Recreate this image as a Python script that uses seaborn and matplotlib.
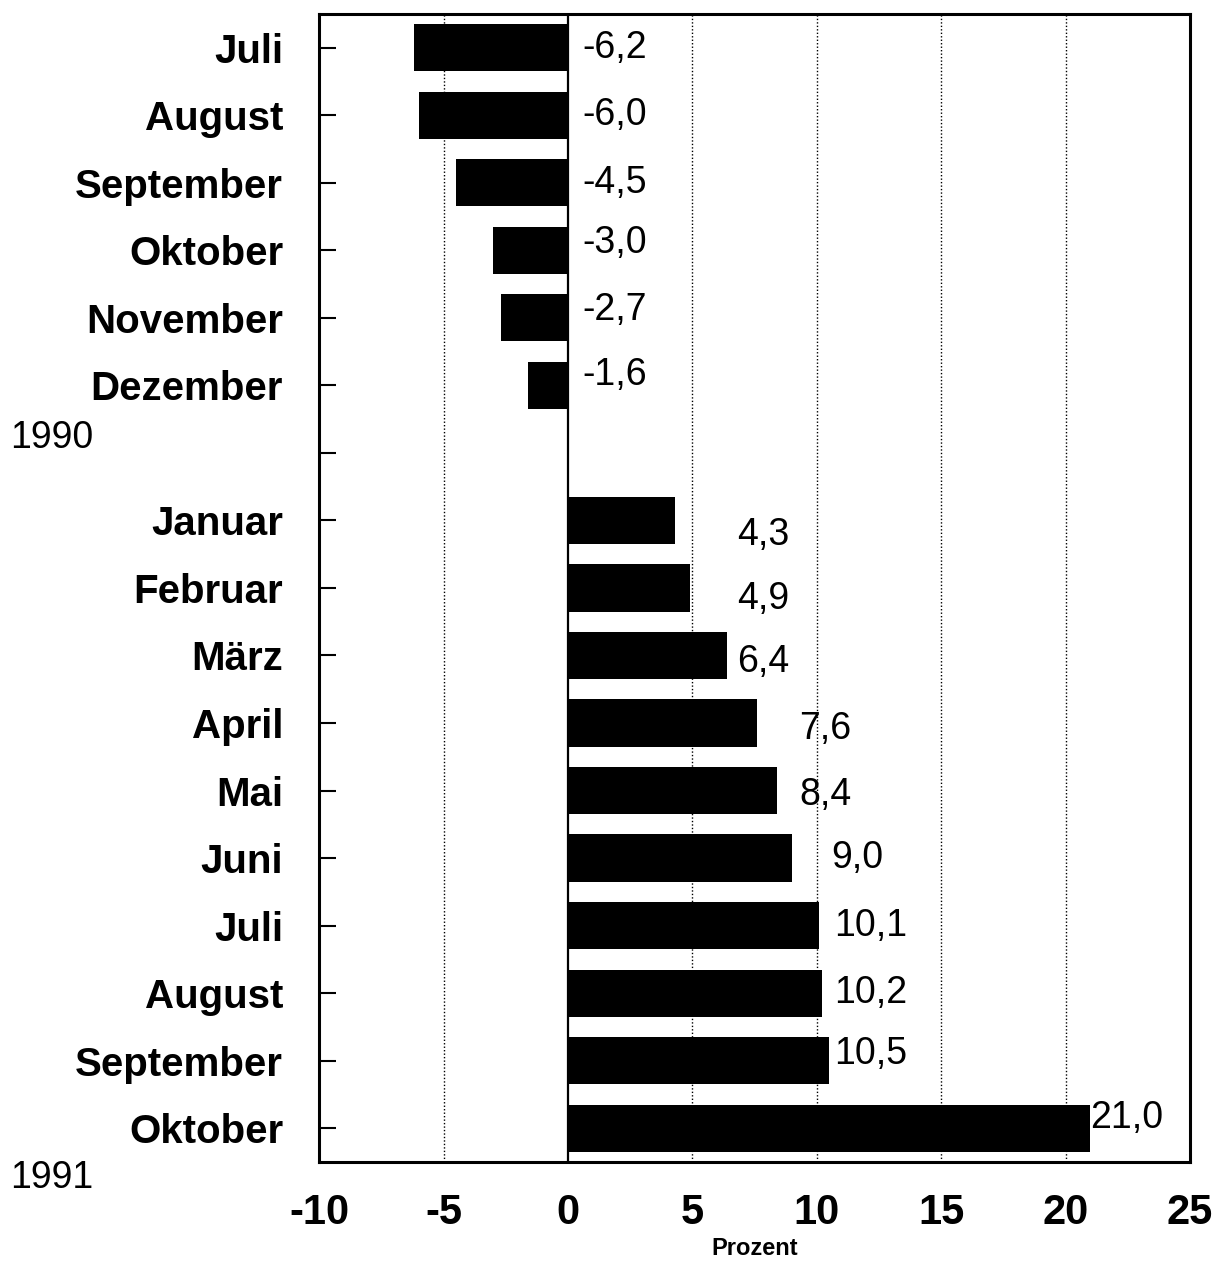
""" Veraenderung gegenueber Vorjahresmonat, Juli 1990 - Oktober 1991 """

import matplotlib
matplotlib.use('Agg')
import matplotlib.pyplot as plt
import numpy as np
import pandas as pd
import seaborn as sns

MONTHS_1990 = ['Juli', 'August', 'September', 'Oktober', 'November', 'Dezember']
VALUES_1990 = [-6.2, -6.0, -4.5, -3.0, -2.7, -1.6]
MONTHS_1991 = ['Januar', 'Februar', 'März', 'April', 'Mai', 'Juni',
               'Juli', 'August', 'September', 'Oktober']
VALUES_1991 = [4.3, 4.9, 6.4, 7.6, 8.4, 9.0, 10.1, 10.2, 10.5, 21.0]
X_TICKS = [-10, -5, 0, 5, 10, 15, 20, 25]

# where the value labels sit (data units)
LABEL_X = [0.6] * 6 + [6.8, 6.8, 6.8, 9.3, 9.3, 10.6, 10.7, 10.7, 10.7, 21.0]
LABEL_DY = [0, 0, 0, -0.1, -0.12, -0.15,
            0.22, 0.16, 0.1, 0.09, 0.07, 0, 0, 0, -0.1, -0.15]

FONT = 'Liberation Sans'


def build_frame():
    keys = [f'1990 {m}' for m in MONTHS_1990] + ['gap'] + \
           [f'1991 {m}' for m in MONTHS_1991]
    values = VALUES_1990 + [np.nan] + VALUES_1991
    names = MONTHS_1990 + [''] + MONTHS_1991
    return pd.DataFrame({'key': keys, 'value': values, 'name': names})


def draw():
    df = build_frame()
    sns.set_style('white')
    plt.rcParams['font.family'] = [FONT, 'DejaVu Sans']
    plt.rcParams['text.color'] = 'black'
    plt.rcParams['xtick.color'] = 'black'
    plt.rcParams['ytick.color'] = 'black'
    plt.rcParams['axes.labelcolor'] = 'black'

    fig = plt.figure(figsize=(12.18, 12.61), dpi=100)
    ax = fig.add_axes([0.262, 0.0785, 0.715, 0.9105])

    sns.barplot(data=df, x='value', y='key', order=list(df['key']), orient='h',
                color='black', width=0.7, saturation=1, ax=ax, zorder=3,
                edgecolor='black', linewidth=0)

    ax.set_xlim(-10, 25)
    ax.set_ylim(len(df) - 0.5, -0.5)

    for x in X_TICKS[1:-1]:
        if x == 0:
            ax.axvline(x, color='black', lw=1.6, zorder=2)
        else:
            ax.axvline(x, color='black', lw=1.0, ls=(0, (1, 1.5)), zorder=1)

    ax.set_xticks(X_TICKS)
    ax.set_xticklabels([f'{t}' for t in X_TICKS], fontsize=30, fontweight='bold')
    ax.set_yticks(range(len(df)))
    ax.set_yticklabels(df['name'], fontsize=29, fontweight='bold')
    ax.tick_params(axis='y', direction='in', length=12, width=1.5, pad=26, left=True)
    ax.tick_params(axis='x', direction='in', length=0, pad=22)
    ax.set_xlabel('Prozent', fontsize=17, fontweight='bold', labelpad=3)
    ax.set_ylabel('')

    for spine in ax.spines.values():
        spine.set_visible(True)
        spine.set_color('black')
        spine.set_linewidth(2.2)

    rows = [i for i, v in enumerate(df['value']) if not np.isnan(v)]
    for row, val, lx, dy in zip(rows, VALUES_1990 + VALUES_1991, LABEL_X, LABEL_DY):
        ax.text(lx, row + dy, f'{val:.1f}'.replace('.', ','),
                fontsize=27, ha='left', va='center', zorder=4)

    fig.text(0.008, 1 - 438 / 1261, '1990', fontsize=27, va='center', ha='left')
    fig.text(0.008, 1 - 1178 / 1261, '1991', fontsize=27, va='center', ha='left')

    fig.savefig('out.png', dpi=100, facecolor='white')


if __name__ == '__main__':
    draw()
